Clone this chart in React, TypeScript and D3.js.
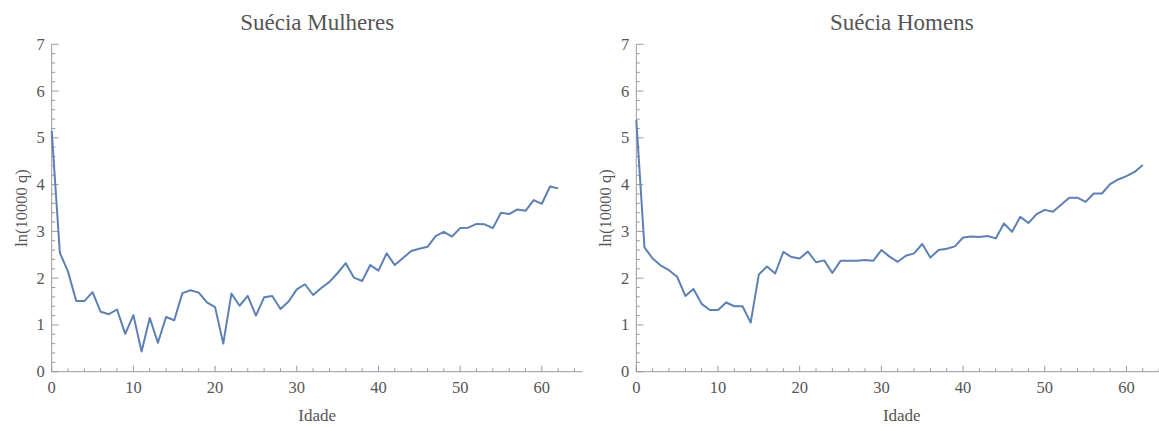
import React from "react";
import * as d3 from "d3";

// Age in years (0..62) for both series
const ages: number[] = d3.range(0, 63);

// ln(10000 q) by age, women
const mulheres: number[] = [
  5.15, 2.54, 2.14, 1.51, 1.51, 1.70, 1.28, 1.23, 1.33, 0.81,
  1.21, 0.43, 1.15, 0.62, 1.17, 1.10, 1.68, 1.74, 1.69, 1.48,
  1.38, 0.60, 1.67, 1.41, 1.62, 1.20, 1.59, 1.62, 1.34, 1.50,
  1.76, 1.87, 1.64, 1.79, 1.92, 2.11, 2.32, 2.01, 1.94, 2.28,
  2.16, 2.53, 2.28, 2.43, 2.58, 2.63, 2.67, 2.90, 2.99, 2.89,
  3.07, 3.08, 3.16, 3.15, 3.07, 3.40, 3.37, 3.47, 3.44, 3.67,
  3.59, 3.96, 3.92,
];

// ln(10000 q) by age, men
const homens: number[] = [
  5.38, 2.66, 2.42, 2.27, 2.17, 2.03, 1.62, 1.77, 1.45, 1.32,
  1.32, 1.48, 1.40, 1.40, 1.05, 2.08, 2.25, 2.10, 2.56, 2.45,
  2.42, 2.57, 2.34, 2.38, 2.11, 2.37, 2.37, 2.37, 2.39, 2.37,
  2.60, 2.46, 2.35, 2.48, 2.53, 2.73, 2.44, 2.60, 2.63, 2.68,
  2.87, 2.89, 2.88, 2.90, 2.85, 3.17, 2.99, 3.31, 3.18, 3.37,
  3.46, 3.42, 3.57, 3.72, 3.72, 3.63, 3.81, 3.81, 4.01, 4.11,
  4.18, 4.27, 4.42,
];

const xMajor: number[] = [0, 10, 20, 30, 40, 50, 60];
const yMajor: number[] = [0, 1, 2, 3, 4, 5, 6, 7];

const panelTitles: string[] = ["Suécia Mulheres", "Suécia Homens"];
const xTitle = "Idade";
const yTitle = "ln(10000 q)";

const W = 1159;
const H = 427;
const FONT = "'Liberation Serif', serif";
const TEXT = "#555555";
const AXIS = "#9a9a9a";
const LINE = "#5E81B5";

type PanelProps = { left: number; title: string; values: number[] };

function Panel({ left, title, values }: PanelProps) {
  const x = d3.scaleLinear().domain([0, 65]).range([left, left + 531]);
  const y = d3.scaleLinear().domain([0, 7]).range([371.7, 44.3]);
  const line = d3
    .line<number>()
    .x((_, i) => x(ages[i]))
    .y((d) => y(d));

  const xMinor = d3.range(0, 65, 2).filter((v) => v % 10 !== 0);
  const yMinor = d3.range(0, 7.001, 0.2).filter((v) => Math.abs(v - Math.round(v)) > 1e-6);
  const x0 = x(0);
  const y0 = y(0);
  const [xa, xb] = x.range();

  return (
    <g>
      <text
        x={(xa + xb) / 2}
        y={30}
        textAnchor="middle"
        fontFamily={FONT}
        fontSize={23}
        fill={TEXT}
      >
        {title}
      </text>

      {/* axes */}
      <line x1={xa} x2={xb} y1={y0} y2={y0} stroke={AXIS} strokeWidth={1} />
      <line x1={x0} x2={x0} y1={y(7)} y2={y0} stroke={AXIS} strokeWidth={1} />

      {xMajor.map((v) => (
        <g key={"xM" + v}>
          <line x1={x(v)} x2={x(v)} y1={y0} y2={y0 - 6} stroke={AXIS} />
          <text
            x={x(v)}
            y={393}
            textAnchor="middle"
            fontFamily={FONT}
            fontSize={16.5}
            fill={TEXT}
          >
            {v}
          </text>
        </g>
      ))}
      {xMinor.map((v) => (
        <line key={"xm" + v} x1={x(v)} x2={x(v)} y1={y0} y2={y0 - 3.5} stroke={AXIS} />
      ))}

      {yMajor.map((v) => (
        <g key={"yM" + v}>
          <line x1={x0} x2={x0 + 7} y1={y(v)} y2={y(v)} stroke={AXIS} />
          <text
            x={x0 - 7}
            y={y(v) + 5.5}
            textAnchor="end"
            fontFamily={FONT}
            fontSize={16.5}
            fill={TEXT}
          >
            {v}
          </text>
        </g>
      ))}
      {yMinor.map((v) => (
        <line key={"ym" + v} x1={x0} x2={x0 + 3.5} y1={y(v)} y2={y(v)} stroke={AXIS} />
      ))}

      <text
        x={(xa + xb) / 2}
        y={421}
        textAnchor="middle"
        fontFamily={FONT}
        fontSize={17}
        fill={TEXT}
      >
        {xTitle}
      </text>
      <text
        transform={`translate(${left - 25},${y(3.5)}) rotate(-90)`}
        textAnchor="middle"
        fontFamily={FONT}
        fontSize={16.5}
        fill={TEXT}
      >
        {yTitle}
      </text>

      <path d={line(values) ?? ""} fill="none" stroke={LINE} strokeWidth={2} strokeLinejoin="round" />
    </g>
  );
}

export default function App() {
  return (
    <svg
      width={W}
      height={H}
      style={{ position: "absolute", left: 0, top: 0, background: "#ffffff" }}
    >
      <Panel left={51.7} title={panelTitles[0]} values={mulheres} />
      <Panel left={636.3} title={panelTitles[1]} values={homens} />
    </svg>
  );
}
